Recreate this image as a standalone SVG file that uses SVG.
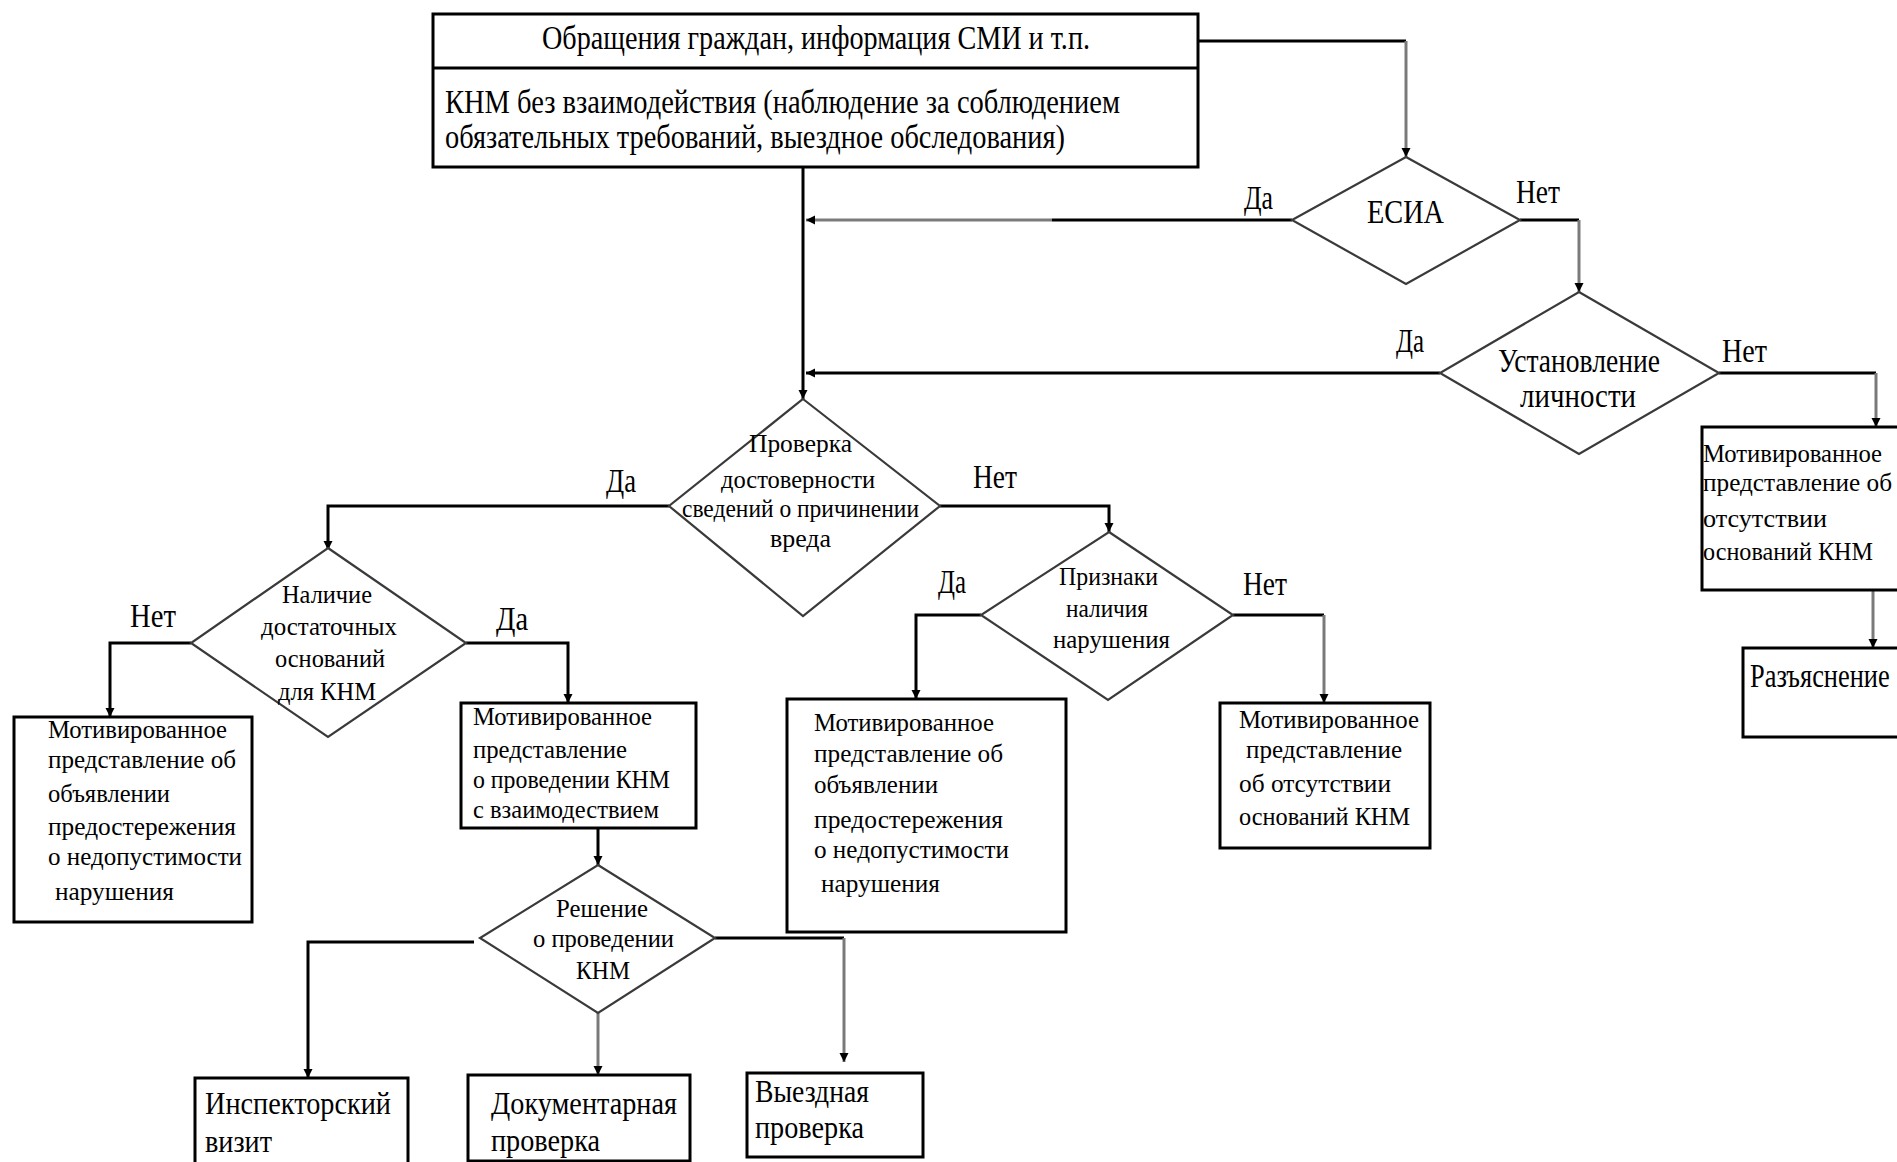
<svg xmlns="http://www.w3.org/2000/svg" width="1897" height="1162" viewBox="0 0 1897 1162">
<defs>
<style>
.box{fill:#fff;stroke:#000;stroke-width:3}
.dia{fill:#fff;stroke:#3a3a3a;stroke-width:2.2}
.ln{fill:none;stroke:#000;stroke-width:3}
.lg{fill:none;stroke:#7a7a7a;stroke-width:3}
text{font-family:"Liberation Serif","Times New Roman",serif;fill:#000}
.b{font-size:33px}
.s{font-size:26px}
.m{font-size:31px}
</style>
<marker id="ah" markerUnits="userSpaceOnUse" markerWidth="10" markerHeight="10" refX="9" refY="4.5" orient="auto">
<path d="M0,0 L9,4.5 L0,9 z" fill="#000"/>
</marker>
</defs>
<rect width="1897" height="1162" fill="#fff"/>

<g id="connectors">
<path class="ln" d="M1198,41 H1406"/>
<path class="lg" d="M1406,41 V157" marker-end="url(#ah)"/>
<path class="ln" d="M803,167 V399" marker-end="url(#ah)"/>
<path class="ln" d="M1292,220 H1052"/>
<path class="lg" d="M1052,220 H806" marker-end="url(#ah)"/>
<path class="ln" d="M1520,220 H1579"/>
<path class="lg" d="M1579,220 V292" marker-end="url(#ah)"/>
<path class="ln" d="M1440,373 H806" marker-end="url(#ah)"/>
<path class="ln" d="M1719,373 H1876"/>
<path class="lg" d="M1876,373 V427" marker-end="url(#ah)"/>
<path class="lg" d="M1873,590 V648" marker-end="url(#ah)"/>
<path class="ln" d="M669,506 H328 V550" marker-end="url(#ah)"/>
<path class="ln" d="M940,506 H1109 V532" marker-end="url(#ah)"/>
<path class="ln" d="M191,643 H110 V717" marker-end="url(#ah)"/>
<path class="ln" d="M466,643 H568 V703" marker-end="url(#ah)"/>
<path class="ln" d="M598,828 V865" marker-end="url(#ah)"/>
<path class="ln" d="M981,615 H916 V699" marker-end="url(#ah)"/>
<path class="ln" d="M1233,615 H1324"/>
<path class="lg" d="M1324,615 V703" marker-end="url(#ah)"/>
<path class="ln" d="M474,942 H308 V1078" marker-end="url(#ah)"/>
<path class="lg" d="M598,1013 V1075" marker-end="url(#ah)"/>
<path class="ln" d="M715,938 H844"/>
<path class="lg" d="M844,938 V1062" marker-end="url(#ah)"/>
</g>

<g id="labels">
<text class="b" x="1244" y="209" textLength="29" lengthAdjust="spacingAndGlyphs">Да</text>
<text class="b" x="1516" y="203" textLength="44" lengthAdjust="spacingAndGlyphs">Нет</text>
<text class="b" x="1396" y="352" textLength="28" lengthAdjust="spacingAndGlyphs">Да</text>
<text class="b" x="1722" y="362" textLength="45" lengthAdjust="spacingAndGlyphs">Нет</text>
<text class="b" x="606" y="492" textLength="30" lengthAdjust="spacingAndGlyphs">Да</text>
<text class="b" x="973" y="488" textLength="44" lengthAdjust="spacingAndGlyphs">Нет</text>
<text class="b" x="130" y="627" textLength="46" lengthAdjust="spacingAndGlyphs">Нет</text>
<text class="b" x="496" y="630" textLength="32" lengthAdjust="spacingAndGlyphs">Да</text>
<text class="b" x="938" y="593" textLength="28" lengthAdjust="spacingAndGlyphs">Да</text>
<text class="b" x="1243" y="595" textLength="44" lengthAdjust="spacingAndGlyphs">Нет</text>
</g>

<g id="source">
<rect class="box" x="433" y="14" width="765" height="153"/>
<line x1="433" y1="68" x2="1198" y2="68" stroke="#000" stroke-width="3"/>
<text class="b" x="542" y="49" textLength="548" lengthAdjust="spacingAndGlyphs">Обращения граждан, информация СМИ и т.п.</text>
<text class="b" x="445" y="113" textLength="675" lengthAdjust="spacingAndGlyphs">КНМ без взаимодействия (наблюдение за соблюдением</text>
<text class="b" x="445" y="148" textLength="620" lengthAdjust="spacingAndGlyphs">обязательных требований, выездное обследования)</text>
</g>

<g id="esia">
<polygon class="dia" points="1406,157 1520,220 1406,284 1292,220"/>
<text class="b" x="1367" y="223" textLength="77" lengthAdjust="spacingAndGlyphs">ЕСИА</text>
</g>

<g id="identity">
<polygon class="dia" points="1579,292 1719,373 1579,454 1440,373"/>
<text class="b" x="1498" y="372" textLength="162" lengthAdjust="spacingAndGlyphs">Установление</text>
<text class="b" x="1520" y="407" textLength="116" lengthAdjust="spacingAndGlyphs">личности</text>
</g>

<g id="no-grounds-right">
<rect class="box" x="1702" y="427" width="230" height="163"/>
<text class="s" x="1703" y="462" textLength="179" lengthAdjust="spacingAndGlyphs">Мотивированное</text>
<text class="s" x="1703" y="491" textLength="189" lengthAdjust="spacingAndGlyphs">представление об</text>
<text class="s" x="1703" y="527" textLength="124" lengthAdjust="spacingAndGlyphs">отсутствии</text>
<text class="s" x="1703" y="560" textLength="170" lengthAdjust="spacingAndGlyphs">оснований КНМ</text>
</g>

<g id="explanation">
<rect class="box" x="1743" y="648" width="190" height="89"/>
<text class="b" transform="translate(1750,687) scale(0.8,1)" x="0" y="0">Разъяснение</text>
</g>

<g id="check">
<polygon class="dia" points="803,399 940,506 803,616 669,506"/>
<text class="s" x="749" y="452" textLength="103" lengthAdjust="spacingAndGlyphs">Проверка</text>
<text class="s" x="721" y="488" textLength="154" lengthAdjust="spacingAndGlyphs">достоверности</text>
<text class="s" x="682" y="517" textLength="237" lengthAdjust="spacingAndGlyphs">сведений о причинении</text>
<text class="s" x="770" y="547" textLength="61" lengthAdjust="spacingAndGlyphs">вреда</text>
</g>

<g id="grounds">
<polygon class="dia" points="328,548 466,643 328,737 191,643"/>
<text class="s" x="282" y="603" textLength="90" lengthAdjust="spacingAndGlyphs">Наличие</text>
<text class="s" x="261" y="635" textLength="136" lengthAdjust="spacingAndGlyphs">достаточных</text>
<text class="s" x="275" y="667" textLength="110" lengthAdjust="spacingAndGlyphs">оснований</text>
<text class="s" x="278" y="700" textLength="98" lengthAdjust="spacingAndGlyphs">для КНМ</text>
</g>

<g id="warning-left">
<rect class="box" x="14" y="717" width="238" height="205"/>
<text class="s" x="48" y="738" textLength="179" lengthAdjust="spacingAndGlyphs">Мотивированное</text>
<text class="s" x="48" y="768" textLength="188" lengthAdjust="spacingAndGlyphs">представление об</text>
<text class="s" x="48" y="802" textLength="122" lengthAdjust="spacingAndGlyphs">объявлении</text>
<text class="s" x="48" y="835" textLength="188" lengthAdjust="spacingAndGlyphs">предостережения</text>
<text class="s" x="48" y="865" textLength="194" lengthAdjust="spacingAndGlyphs">о недопустимости</text>
<text class="s" x="55" y="900" textLength="119" lengthAdjust="spacingAndGlyphs">нарушения</text>
</g>

<g id="knm-interaction">
<rect class="box" x="461" y="703" width="235" height="125"/>
<text class="s" x="473" y="725" textLength="179" lengthAdjust="spacingAndGlyphs">Мотивированное</text>
<text class="s" x="473" y="758" textLength="154" lengthAdjust="spacingAndGlyphs">представление</text>
<text class="s" x="473" y="788" textLength="197" lengthAdjust="spacingAndGlyphs">о проведении КНМ</text>
<text class="s" x="473" y="818" textLength="186" lengthAdjust="spacingAndGlyphs">с взаимодествием</text>
</g>

<g id="signs">
<polygon class="dia" points="1109,532 1233,615 1108,700 981,615"/>
<text class="s" x="1059" y="585" textLength="99" lengthAdjust="spacingAndGlyphs">Признаки</text>
<text class="s" x="1066" y="617" textLength="82" lengthAdjust="spacingAndGlyphs">наличия</text>
<text class="s" x="1053" y="648" textLength="117" lengthAdjust="spacingAndGlyphs">нарушения</text>
</g>

<g id="warning-mid">
<rect class="box" x="787" y="699" width="279" height="233"/>
<text class="s" x="814" y="731" textLength="180" lengthAdjust="spacingAndGlyphs">Мотивированное</text>
<text class="s" x="814" y="762" textLength="189" lengthAdjust="spacingAndGlyphs">представление об</text>
<text class="s" x="814" y="793" textLength="124" lengthAdjust="spacingAndGlyphs">объявлении</text>
<text class="s" x="814" y="828" textLength="189" lengthAdjust="spacingAndGlyphs">предостережения</text>
<text class="s" x="814" y="858" textLength="195" lengthAdjust="spacingAndGlyphs">о недопустимости</text>
<text class="s" x="821" y="892" textLength="119" lengthAdjust="spacingAndGlyphs">нарушения</text>
</g>

<g id="no-grounds-mid">
<rect class="box" x="1220" y="703" width="210" height="145"/>
<text class="s" x="1239" y="728" textLength="180" lengthAdjust="spacingAndGlyphs">Мотивированное</text>
<text class="s" x="1246" y="758" textLength="156" lengthAdjust="spacingAndGlyphs">представление</text>
<text class="s" x="1239" y="792" textLength="152" lengthAdjust="spacingAndGlyphs">об отсутствии</text>
<text class="s" x="1239" y="825" textLength="171" lengthAdjust="spacingAndGlyphs">оснований КНМ</text>
</g>

<g id="decision">
<polygon class="dia" points="598,865 715,938 598,1013 480,938"/>
<text class="s" x="556" y="917" textLength="92" lengthAdjust="spacingAndGlyphs">Решение</text>
<text class="s" x="533" y="947" textLength="141" lengthAdjust="spacingAndGlyphs">о проведении</text>
<text class="s" x="576" y="979" textLength="54" lengthAdjust="spacingAndGlyphs">КНМ</text>
</g>

<g id="inspection-visit">
<rect class="box" x="195" y="1078" width="213" height="100"/>
<text class="m" x="205" y="1114" textLength="186" lengthAdjust="spacingAndGlyphs">Инспекторский</text>
<text class="m" x="205" y="1152" textLength="67" lengthAdjust="spacingAndGlyphs">визит</text>
</g>

<g id="documentary-check">
<rect class="box" x="468" y="1075" width="222" height="86"/>
<text class="m" x="491" y="1114" textLength="186" lengthAdjust="spacingAndGlyphs">Документарная</text>
<text class="m" x="491" y="1151" textLength="109" lengthAdjust="spacingAndGlyphs">проверка</text>
</g>

<g id="field-check">
<rect class="box" x="747" y="1073" width="176" height="84"/>
<text class="m" x="755" y="1102" textLength="114" lengthAdjust="spacingAndGlyphs">Выездная</text>
<text class="m" x="755" y="1138" textLength="109" lengthAdjust="spacingAndGlyphs">проверка</text>
</g>
</svg>
